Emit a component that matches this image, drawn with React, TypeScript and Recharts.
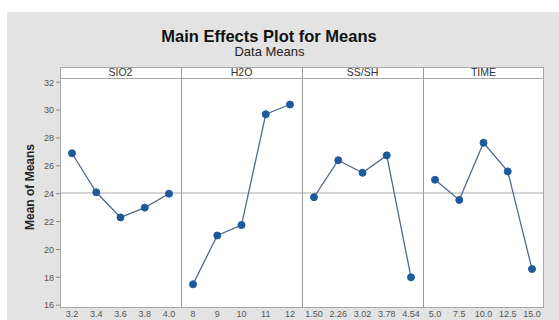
import React from "react";
import { LineChart, Line, XAxis, YAxis, ReferenceLine } from "recharts";

// factor levels and the mean response at each level
const sio2Levels = ["3.2", "3.4", "3.6", "3.8", "4.0"];
const sio2Means = [26.9, 24.1, 22.3, 23.0, 24.0];

const h2oLevels = ["8", "9", "10", "11", "12"];
const h2oMeans = [17.5, 21.0, 21.75, 29.7, 30.4];

const sssLevels = ["1.50", "2.26", "3.02", "3.78", "4.54"];
const sssMeans = [23.75, 26.4, 25.5, 26.75, 18.0];

const timeLevels = ["5.0", "7.5", "10.0", "12.5", "15.0"];
const timeMeans = [25.0, 23.55, 27.65, 25.6, 18.6];

const yTicks = [16, 18, 20, 22, 24, 26, 28, 30, 32];
const grandMean = 24.05;

const factors = [
  { name: "SIO2", levels: sio2Levels, means: sio2Means },
  { name: "H2O", levels: h2oLevels, means: h2oMeans },
  { name: "SS/SH", levels: sssLevels, means: sssMeans },
  { name: "TIME", levels: timeLevels, means: timeMeans },
];

const FONT = "'Liberation Sans', Arial, sans-serif";
const PLOT_LEFT = 60;
const PLOT_TOP = 78;
const PLOT_BOTTOM = 308;
const PANEL_W = 121;
const AXIS_W = 60;

const tickStyle = { fontSize: 9, fill: "#555", fontFamily: FONT };

function Panel({ idx }: { idx: number }) {
  const f = factors[idx];
  const data = f.levels.map((level, i) => ({ level, mean: f.means[i] }));
  const first = idx === 0;
  const left = PLOT_LEFT + idx * PANEL_W - (first ? AXIS_W : 0);
  const width = PANEL_W + (first ? AXIS_W : 0);
  return (
    <div style={{ position: "absolute", left, top: PLOT_TOP, width, height: 250 }}>
      <LineChart
        width={width}
        height={250}
        data={data}
        margin={{ top: 0, right: 0, bottom: 0, left: 0 }}
      >
        <XAxis
          dataKey="level"
          type="category"
          axisLine={false}
          tickLine={false}
          tick={tickStyle}
          tickSize={2}
          tickMargin={1}
          height={20}
          interval={0}
          padding={{ left: 12, right: 12 }}
        />
        <YAxis
          hide={!first}
          width={AXIS_W}
          domain={[15.8, 32.3]}
          ticks={yTicks}
          allowDataOverflow
          axisLine={false}
          tickLine={{ stroke: "#888" }}
          tickSize={4}
          tick={tickStyle}
        />
        <ReferenceLine y={grandMean} stroke="#a9a9a9" strokeWidth={1} />
        <Line
          dataKey="mean"
          stroke="#52698a"
          strokeWidth={1.3}
          dot={{ r: 3.5, fill: "#1d5a9c", stroke: "#1d5a9c", strokeWidth: 1 }}
          isAnimationActive={false}
        />
      </LineChart>
    </div>
  );
}

export default function App() {
  const plotRight = PLOT_LEFT + PANEL_W * 4;
  return (
    <div style={{ position: "fixed", left: 0, top: 0, width: 559, height: 320, background: "#fff", overflow: "hidden", fontFamily: FONT }}>
      <div style={{ position: "absolute", left: 7, top: 12, right: 0, bottom: 0, background: "#e3e3e3" }} />
      <div style={{ position: "absolute", left: 0, width: 538, top: 27, textAlign: "center", fontWeight: "bold", fontSize: 16.5, color: "#111" }}>
        Main Effects Plot for Means
      </div>
      <div style={{ position: "absolute", left: 0, width: 539, top: 44, textAlign: "center", fontSize: 13, color: "#222" }}>
        Data Means
      </div>
      {/* white plotting region with strip headers */}
      <div style={{ position: "absolute", left: PLOT_LEFT, top: 67, width: plotRight - PLOT_LEFT, height: PLOT_BOTTOM - 67, background: "#fff", border: "1px solid #a8a8a8", boxSizing: "border-box" }} />
      <div style={{ position: "absolute", left: PLOT_LEFT, top: PLOT_TOP, width: plotRight - PLOT_LEFT, height: 1, background: "#a8a8a8" }} />
      {factors.map((f, i) => (
        <div key={f.name} style={{ position: "absolute", left: PLOT_LEFT + i * PANEL_W, top: 66, width: PANEL_W, height: 12, textAlign: "center", fontSize: 10.5, lineHeight: "13px", color: "#333" }}>
          {f.name}
        </div>
      ))}
      {[1, 2, 3].map((i) => (
        <div key={i} style={{ position: "absolute", left: PLOT_LEFT + i * PANEL_W, top: 67, width: 1, height: PLOT_BOTTOM - 67, background: "#9a9a9a" }} />
      ))}
      <div style={{ position: "absolute", left: 30, top: 187, transform: "translate(-50%, -50%) rotate(-90deg)", whiteSpace: "nowrap", fontWeight: "bold", fontSize: 12, color: "#222" }}>
        Mean of Means
      </div>
      {factors.map((f, i) => (
        <Panel key={f.name} idx={i} />
      ))}
    </div>
  );
}
